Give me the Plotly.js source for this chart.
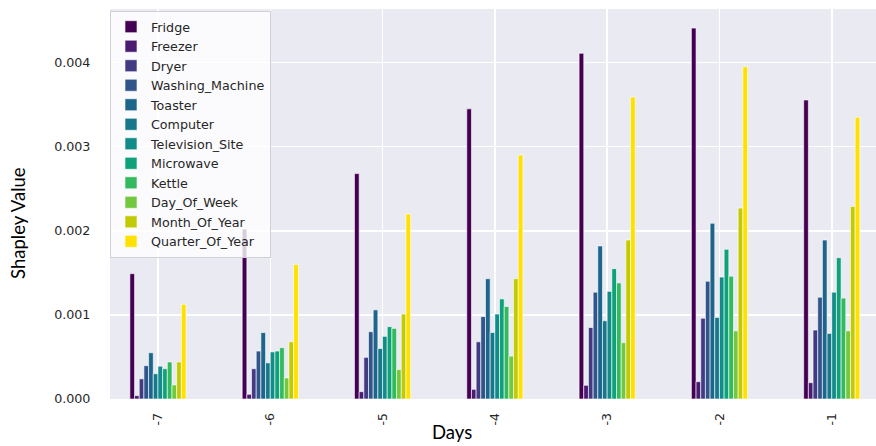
<!DOCTYPE html>
<html>
<head>
<meta charset="utf-8">
<script src="https://cdn.plot.ly/plotly-3.0.1.min.js"></script>
<style>html,body{margin:0;padding:0;background:#fff;}#chart{width:876px;height:446px;}</style>
</head>
<body>
<div id="chart"></div>
<script>
const days = ['-7', '-6', '-5', '-4', '-3', '-2', '-1'];
const seriesNames = ['Fridge', 'Freezer', 'Dryer', 'Washing_Machine', 'Toaster', 'Computer',
  'Television_Site', 'Microwave', 'Kettle', 'Day_Of_Week', 'Month_Of_Year', 'Quarter_Of_Year'];
const seriesColors = ['#440052', '#4a1b70', '#423b84', '#31548b', '#1e658c', '#17788c',
  '#128c88', '#0fa17a', '#33b95e', '#72c83e', '#c0cb05', '#ffe100'];

const fridge          = [0.00149, 0.00202, 0.00268, 0.00345, 0.00411, 0.00441, 0.003555];
const freezer         = [0.00004, 0.000056, 0.000087, 0.000115, 0.000163, 0.000206, 0.000194];
const dryer           = [0.00024, 0.00036, 0.000495, 0.00068, 0.00085, 0.00096, 0.00082];
const washingMachine  = [0.000396, 0.00057, 0.0008, 0.00098, 0.00127, 0.0014, 0.00121];
const toaster         = [0.00055, 0.00079, 0.00106, 0.00143, 0.00182, 0.00209, 0.00189];
const computer        = [0.0003, 0.00043, 0.0006, 0.00079, 0.00093, 0.00097, 0.00078];
const televisionSite  = [0.00039, 0.00056, 0.000745, 0.00101, 0.00128, 0.00145, 0.00127];
const microwave       = [0.00036, 0.00057, 0.00086, 0.00119, 0.00155, 0.00178, 0.00168];
const kettle          = [0.00044, 0.00061, 0.00084, 0.0011, 0.00138, 0.00146, 0.0012];
const dayOfWeek       = [0.000167, 0.00025, 0.00035, 0.00051, 0.00067, 0.00081, 0.00081];
const monthOfYear     = [0.00044, 0.00068, 0.00101, 0.00143, 0.00189, 0.00227, 0.00229];
const quarterOfYear   = [0.001126, 0.0016, 0.0022, 0.0029, 0.00359, 0.00395, 0.00335];

const seriesValues = [fridge, freezer, dryer, washingMachine, toaster, computer,
  televisionSite, microwave, kettle, dayOfWeek, monthOfYear, quarterOfYear];

const yTickVals = [0, 0.001, 0.002, 0.003, 0.004];

const traces = seriesNames.map((name, i) => ({
  type: 'bar',
  name: name,
  x: days,
  y: seriesValues[i],
  marker: { color: seriesColors[i], line: { color: '#ffffff', width: 0.6 } },
  hoverinfo: 'name+y'
}));

const textColor = '#262626';
const layout = {
  width: 876,
  height: 446,
  margin: { l: 110, r: 0, t: 9, b: 47 },
  paper_bgcolor: '#ffffff',
  plot_bgcolor: '#eaeaf2',
  barmode: 'group',
  bargap: 0.5,
  bargroupgap: 0,
  font: { family: 'DejaVu Sans, sans-serif', size: 12.5, color: textColor },
  showlegend: true,
  legend: {
    x: 0.0, y: 0.995, xanchor: 'left', yanchor: 'top',
    bgcolor: 'rgba(255,255,255,0.8)',
    bordercolor: '#d0d0d8', borderwidth: 1,
    font: { family: 'DejaVu Sans, sans-serif', size: 12.7, color: textColor },
    itemwidth: 30
  },
  xaxis: {
    type: 'category',
    range: [-0.427, 6.394],
    tickangle: -90,
    showgrid: true,
    gridcolor: '#ffffff',
    gridwidth: 1.5,
    zeroline: false,
    showline: false,
    ticks: 'outside', ticklen: 8, tickcolor: 'rgba(0,0,0,0)',
    tickfont: { family: 'DejaVu Sans, sans-serif', size: 12.5, color: textColor }
  },
  yaxis: {
    range: [0, 0.004637],
    tickvals: yTickVals,
    tickformat: '.3f',
    showgrid: true,
    gridcolor: '#ffffff',
    gridwidth: 1.5,
    zeroline: false,
    showline: false,
    ticks: 'outside', ticklen: 16, tickcolor: 'rgba(0,0,0,0)',
    tickfont: { family: 'DejaVu Sans, sans-serif', size: 12.7, color: textColor }
  },
  annotations: [
    { text: 'Days', xref: 'paper', yref: 'paper', x: (452 - 110) / 766, y: (399 - 432) / 390,
      xanchor: 'center', yanchor: 'middle', showarrow: false,
      font: { family: 'Lato, sans-serif', size: 18.5, color: '#000000' } },
    { text: 'Shapley Value', xref: 'paper', yref: 'paper', x: (18 - 110) / 766, y: (399 - 223) / 390,
      xanchor: 'center', yanchor: 'middle', showarrow: false, textangle: -90,
      font: { family: 'Lato, sans-serif', size: 18.5, color: '#000000' } }
  ]
};

Plotly.newPlot('chart', traces, layout, { displayModeBar: false, staticPlot: true });
</script>
</body>
</html>
